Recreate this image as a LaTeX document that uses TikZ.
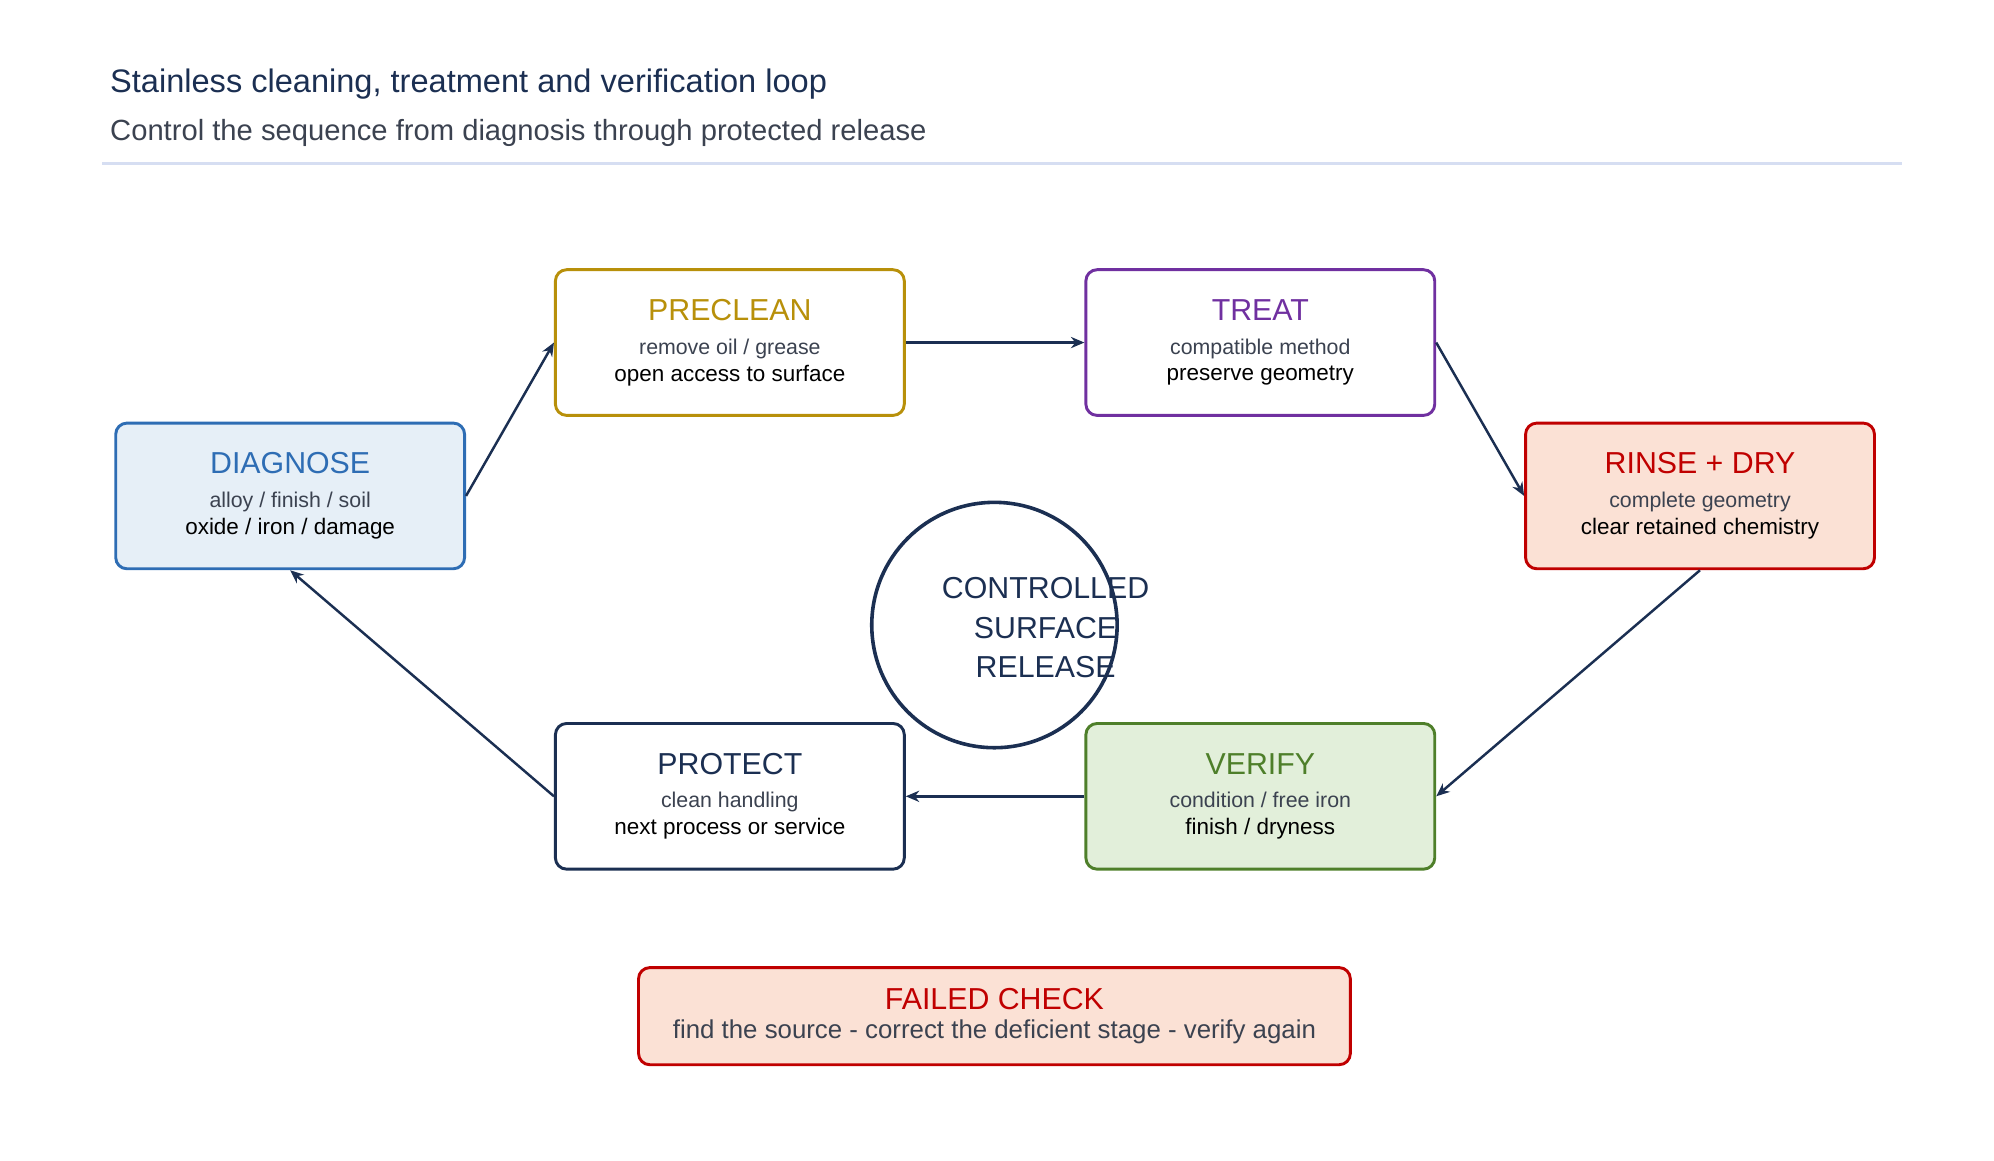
\documentclass[tikz,border=0pt]{standalone}
\usepackage{fontspec}
\setmainfont{Liberation Sans}
\usetikzlibrary{arrows.meta}
\definecolor{navy}{HTML}{1B2F52}
\definecolor{bodygray}{HTML}{3B4250}
\definecolor{diagblue}{HTML}{2E6DB4}
\definecolor{diagfill}{HTML}{E6EFF7}
\definecolor{cleangold}{HTML}{B8900A}
\definecolor{treatpurple}{HTML}{7030A0}
\definecolor{rinsered}{HTML}{C00000}
\definecolor{rinsefill}{HTML}{FBE1D5}
\definecolor{verifygreen}{HTML}{4E7F2A}
\definecolor{verifyfill}{HTML}{E2EFDA}
\definecolor{rulecol}{HTML}{D6DEF2}
\newcommand{\headsize}{\fontsize{13.5}{15}\selectfont}
\newcommand{\bodysize}{\fontsize{9.5}{11.5}\selectfont}
\tikzset{
	% stage boxes: rounded frame, heading plus two lines of body text
	stage/.style={draw,line width=1.3pt,rounded corners=5pt,minimum width=5.46cm,minimum height=2.28cm,fill=white,align=center},
	flow/.style={draw=navy,line width=1.1pt,-{Stealth[length=6pt,width=5pt]}}
}
\begin{document}
\begin{tikzpicture}[x=0.02cm,y=-0.02cm]
\useasboundingbox (0,0) rectangle (1560,908);

% heading
\node(title)[anchor=base west,text=navy,font=\fontsize{14.5}{16}\selectfont] at (80,72) {Stainless cleaning, treatment and verification loop};
\node(subtitle)[anchor=base west,text=bodygray,font=\fontsize{13}{15}\selectfont] at (80,110) {Control the sequence from diagnosis through protected release};
\draw[rulecol,line width=1pt] (80,128) -- (1488,128);

% stages of the loop
\node(diag)[stage,draw=diagblue,fill=diagfill] at (227,388) {\color{diagblue}\headsize DIAGNOSE\\[3pt]\color{bodygray}\bodysize alloy / finish / soil\\oxide / iron / damage};
\node(pre)[stage,draw=cleangold] at (571,268) {\color{cleangold}\headsize PRECLEAN\\[3pt]\color{bodygray}\bodysize remove oil / grease\\open access to surface};
\node(treat)[stage,draw=treatpurple] at (986,268) {\color{treatpurple}\headsize TREAT\\[3pt]\color{bodygray}\bodysize compatible method\\preserve geometry};
\node(rinse)[stage,draw=rinsered,fill=rinsefill] at (1330,388) {\color{rinsered}\headsize RINSE + DRY\\[3pt]\color{bodygray}\bodysize complete geometry\\clear retained chemistry};
\node(verify)[stage,draw=verifygreen,fill=verifyfill] at (986,623) {\color{verifygreen}\headsize VERIFY\\[3pt]\color{bodygray}\bodysize condition / free iron\\finish / dryness};
\node(protect)[stage,draw=navy] at (571,623) {\color{navy}\headsize PROTECT\\[3pt]\color{bodygray}\bodysize clean handling\\next process or service};

% centre circle
\node(hub)[circle,draw=navy,line width=1.6pt,minimum size=3.84cm] at (778,489) {};
\node(hubtext)[align=center,text=navy,font=\fontsize{13.5}{17.5}\selectfont] at (818,491) {CONTROLLED\\SURFACE\\RELEASE};

% connectors
\draw[flow] (diag.east) -- (pre.west);
\draw[flow] (pre.east) -- (treat.west);
\draw[flow] (treat.east) -- (rinse.west);
\draw[flow] (rinse.south) -- (verify.east);
\draw[flow] (verify.west) -- (protect.east);
\draw[flow] (protect.west) -- (diag.south);

% failed check note
\node(fail)[draw=rinsered,fill=rinsefill,line width=1.3pt,rounded corners=5pt,minimum width=11.14cm,minimum height=1.52cm,align=center] at (778,795) {\color{rinsered}\headsize FAILED CHECK\\[1pt]\color{bodygray}\fontsize{11.5}{13}\selectfont find the source - correct the deficient stage - verify again};

\end{tikzpicture}
\end{document}
